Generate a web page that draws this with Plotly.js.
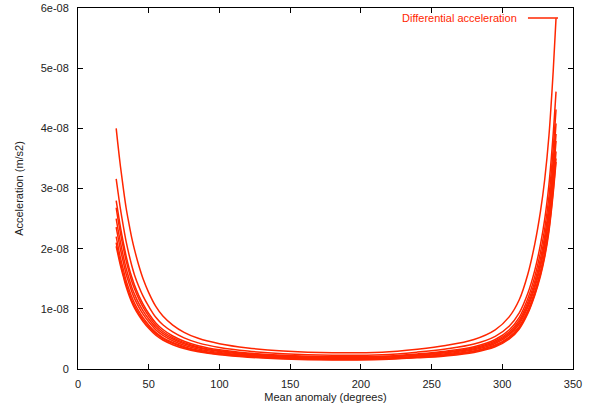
<!DOCTYPE html>
<html>
<head>
<meta charset="utf-8">
<script src="https://cdn.plot.ly/plotly-3.0.1.min.js"></script>
<style>
  html, body { margin: 0; padding: 0; background: #ffffff; }
  #chart { width: 604px; height: 407px; }
</style>
</head>
<body>
<div id="chart"></div>
<script>
// Mean anomaly sample points (degrees), shared by all curves
const meanAnomaly = [27, 28, 30, 32, 34, 36, 38, 40, 43, 46, 50, 55, 60, 67, 75, 85, 100, 120, 145, 180,
                     215, 240, 260, 280, 295, 305, 312, 318, 323, 327, 330, 333, 336, 338];

// Differential acceleration, in units of 1e-8 m/s2 (one array per orbit curve)
const accelA = [4.00, 3.78, 3.37, 3.01, 2.68, 2.42, 2.18, 1.98, 1.72, 1.50, 1.27, 1.04, 0.88, 0.73, 0.61, 0.51, 0.42, 0.35, 0.30, 0.27,
                0.28, 0.33, 0.39, 0.49, 0.65, 0.87, 1.15, 1.57, 2.08, 2.62, 3.15, 3.88, 4.95, 5.83];
const accelB = [3.16, 2.99, 2.66, 2.38, 2.12, 1.91, 1.72, 1.56, 1.37, 1.21, 1.04, 0.859, 0.735, 0.616, 0.517, 0.434, 0.358, 0.298, 0.255, 0.230,
                0.238, 0.281, 0.332, 0.414, 0.543, 0.716, 0.933, 1.254, 1.643, 2.07, 2.49, 3.07, 3.91, 4.61];
const accelC = [2.80, 2.65, 2.36, 2.11, 1.88, 1.69, 1.53, 1.39, 1.22, 1.08, 0.923, 0.765, 0.656, 0.549, 0.462, 0.388, 0.319, 0.266, 0.228, 0.205,
                0.213, 0.251, 0.296, 0.371, 0.491, 0.653, 0.859, 1.167, 1.539, 1.939, 2.331, 2.871, 3.663, 4.314];
const accelD = [2.68, 2.53, 2.26, 2.02, 1.80, 1.62, 1.46, 1.33, 1.165, 1.028, 0.879, 0.728, 0.623, 0.521, 0.438, 0.367, 0.303, 0.252, 0.216, 0.194,
                0.202, 0.238, 0.281, 0.352, 0.465, 0.619, 0.813, 1.104, 1.456, 1.834, 2.205, 2.716, 3.465, 4.081];
const accelE = [2.50, 2.36, 2.11, 1.88, 1.675, 1.51, 1.36, 1.24, 1.09, 0.967, 0.831, 0.691, 0.593, 0.498, 0.419, 0.352, 0.290, 0.242, 0.207, 0.186,
                0.193, 0.228, 0.269, 0.337, 0.445, 0.592, 0.779, 1.057, 1.394, 1.755, 2.111, 2.60, 3.317, 3.906];
const accelF = [2.36, 2.23, 1.99, 1.78, 1.58, 1.43, 1.29, 1.17, 1.03, 0.912, 0.784, 0.651, 0.559, 0.470, 0.395, 0.332, 0.274, 0.228, 0.195, 0.176,
                0.182, 0.215, 0.254, 0.319, 0.423, 0.566, 0.748, 1.021, 1.352, 1.703, 2.048, 2.522, 3.218, 3.790];
const accelG = [2.20, 2.08, 1.85, 1.66, 1.47, 1.33, 1.20, 1.09, 0.961, 0.852, 0.733, 0.609, 0.523, 0.440, 0.371, 0.311, 0.256, 0.214, 0.183, 0.165,
                0.171, 0.201, 0.238, 0.299, 0.398, 0.535, 0.709, 0.971, 1.290, 1.624, 1.953, 2.406, 3.069, 3.615];
const accelH = [2.10, 1.98, 1.77, 1.58, 1.41, 1.27, 1.14, 1.04, 0.920, 0.817, 0.704, 0.587, 0.505, 0.425, 0.358, 0.301, 0.248, 0.207, 0.177, 0.159,
                0.165, 0.195, 0.230, 0.290, 0.385, 0.517, 0.686, 0.940, 1.248, 1.572, 1.890, 2.328, 2.970, 3.498];
const accelI = [2.04, 1.93, 1.72, 1.54, 1.37, 1.23, 1.11, 1.01, 0.890, 0.788, 0.676, 0.561, 0.482, 0.404, 0.340, 0.286, 0.235, 0.196, 0.168, 0.151,
                0.157, 0.185, 0.218, 0.276, 0.369, 0.499, 0.666, 0.919, 1.227, 1.546, 1.859, 2.289, 2.921, 3.440];

const curves = [accelA, accelB, accelC, accelD, accelE, accelF, accelG, accelH, accelI];
const unit = 1e-8;

// Axis ticks
const xTickVals = [0, 50, 100, 150, 200, 250, 300, 350];
const yTickVals = [0, 1e-8, 2e-8, 3e-8, 4e-8, 5e-8, 6e-8];
const yTickText = ['0', '1e-08', '2e-08', '3e-08', '4e-08', '5e-08', '6e-08'];

const seriesName = 'Differential acceleration';
const red = '#ff2600';

// Build one trace, curves separated by gaps
const xs = [], ys = [];
curves.forEach((c, k) => {
  if (k > 0) { xs.push(null); ys.push(null); }
  c.forEach((v, i) => { xs.push(meanAnomaly[i]); ys.push(v * unit); });
});

const font = { family: 'Liberation Sans, Arial, Helvetica, sans-serif', size: 11, color: '#222' };

const data = [{
  x: xs, y: ys, type: 'scatter', mode: 'lines', name: seriesName,
  connectgaps: false,
  line: { color: red, width: 1.5, shape: 'spline', smoothing: 1 },
  hoverinfo: 'skip'
}];

const layout = {
  width: 604, height: 407,
  margin: { l: 78, r: 31, t: 8, b: 38, pad: 0 },
  paper_bgcolor: '#fff', plot_bgcolor: '#fff',
  showlegend: false,
  font: font,
  xaxis: {
    range: [0, 350], tickvals: xTickVals, ticktext: xTickVals.map(String),
    ticks: 'inside', ticklen: 5, tickwidth: 1, tickcolor: '#000',
    showline: true, linecolor: '#000', linewidth: 1, mirror: 'allticks',
    showgrid: false, zeroline: false, ticklabelstandoff: 5,
    title: { text: 'Mean anomaly (degrees)', font: font, standoff: 4 },
    automargin: false
  },
  yaxis: {
    range: [0, 6e-8], tickvals: yTickVals, ticktext: yTickText,
    ticks: 'inside', ticklen: 5, tickwidth: 1, tickcolor: '#000',
    showline: true, linecolor: '#000', linewidth: 1, mirror: 'allticks',
    showgrid: false, zeroline: false, ticklabelstandoff: 6,
    title: { text: 'Acceleration (m/s2)', font: font, standoff: 14 },
    automargin: false
  },
  annotations: [{
    xref: 'paper', yref: 'paper', x: 0.891, y: 0.9723,
    xanchor: 'right', yanchor: 'middle', showarrow: false,
    text: seriesName, font: { family: font.family, size: 11, color: red }
  }],
  shapes: [{
    type: 'line', xref: 'paper', yref: 'paper',
    x0: 0.909, x1: 0.9697, y0: 0.9723, y1: 0.9723,
    line: { color: red, width: 1.5 }
  }]
};

Plotly.newPlot('chart', data, layout, { staticPlot: true, displayModeBar: false });
</script>
</body>
</html>
